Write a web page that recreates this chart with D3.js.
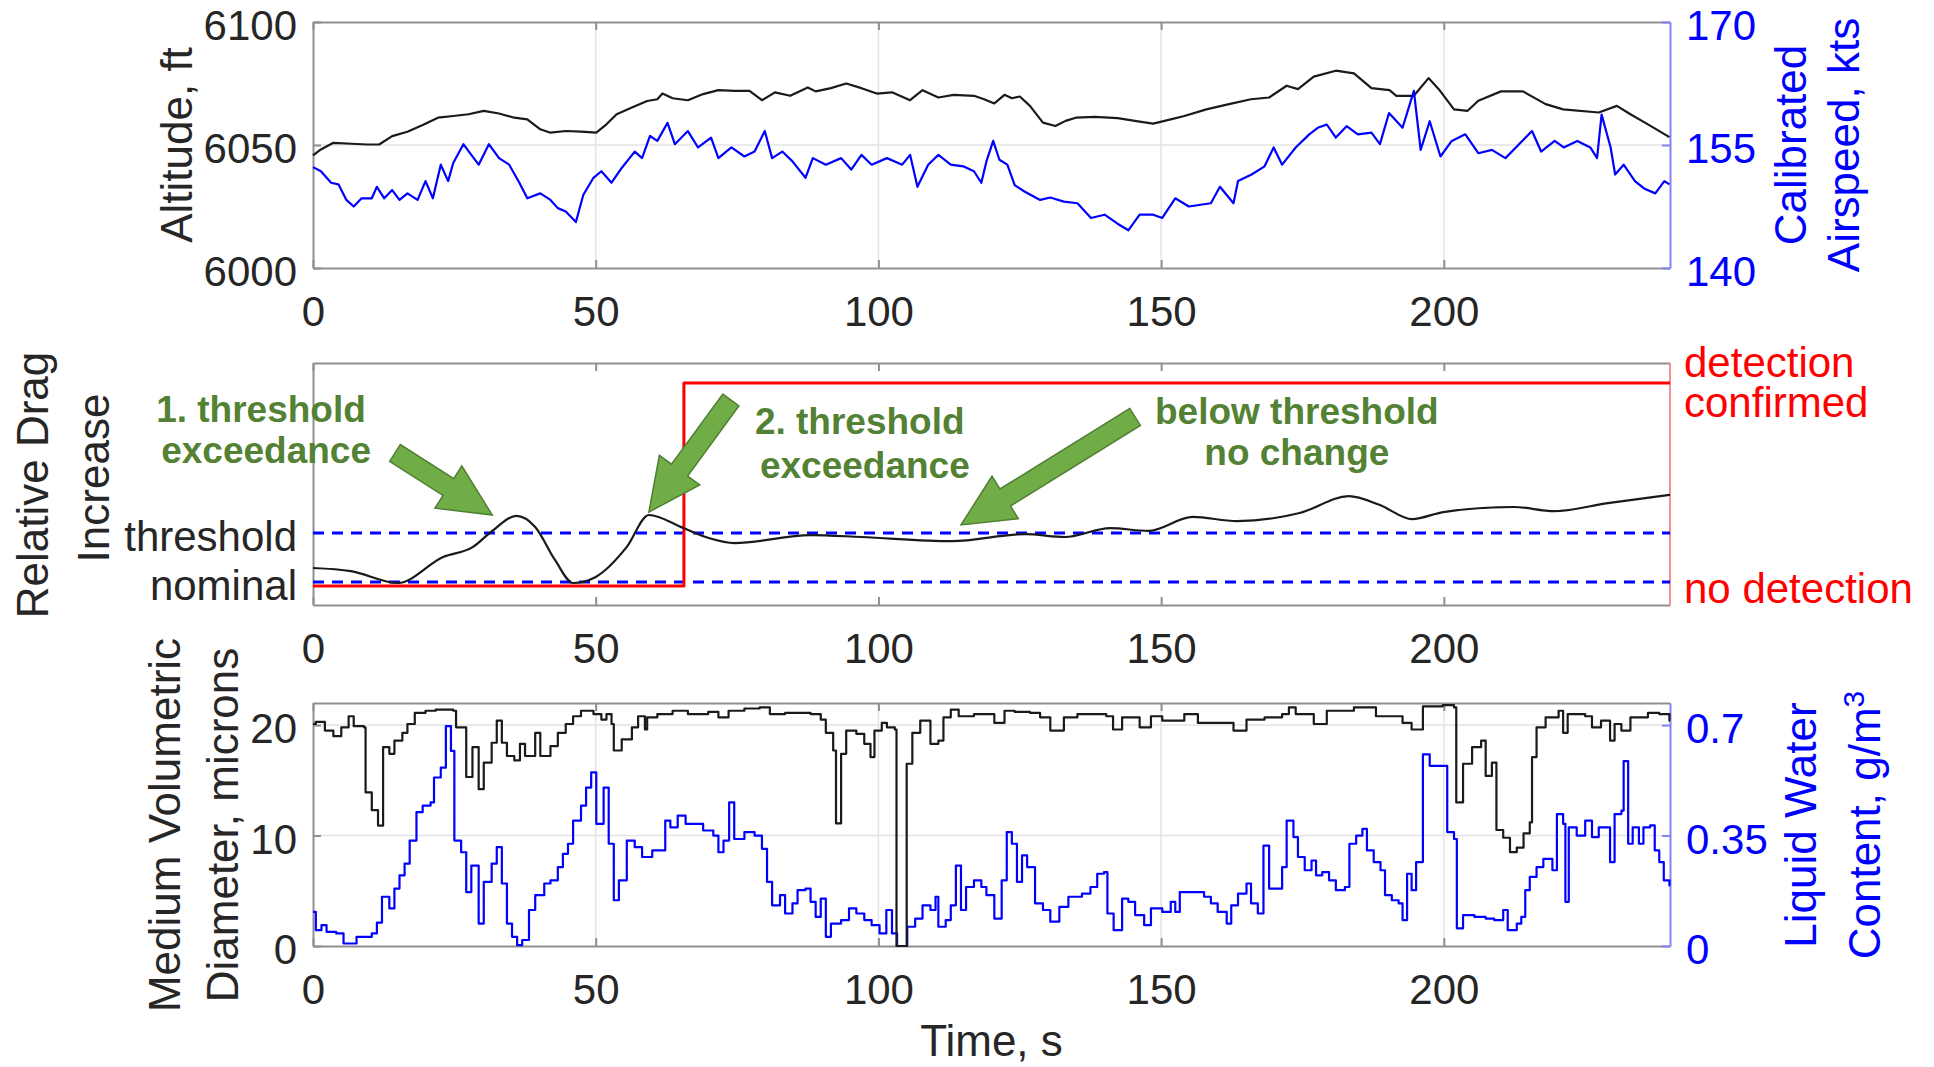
<!DOCTYPE html>
<html>
<head>
<meta charset="utf-8">
<script src="https://cdn.jsdelivr.net/npm/d3@7"></script>
<style>
  body { margin: 0; background: #fff; }
  svg { display: block; font-family: "Liberation Sans", Arial, Helvetica, sans-serif; }
</style>
</head>
<body>
<svg id="chart" width="1934" height="1067"></svg>
<script>
// ---- Data ----
const timeTicks = [0, 50, 100, 150, 200];
const altTicks = [6000, 6050, 6100];
const speedTicks = [140, 155, 170];
const mvdTicks = [0, 10, 20];
const lwcTicks = [0, 0.35, 0.7];

// Altitude, ft  [time s, value]
const altitude = [[0,6045.8],[1.4,6048.2],[3.6,6050.9],[6.8,6050.5],[9.5,6050.2],[11.7,6050.2],[14,6053.6],[16.7,6055.4],[19.4,6058.1],[22.1,6061.1],[24.8,6061.8],[27.5,6062.5],[30.2,6063.9],[32.9,6062.8],[35.6,6061.1],[37.9,6060.4],[40.2,6056.4],[42,6055],[44.7,6055.7],[47.4,6055.4],[50.1,6055],[51.9,6058.4],[53.7,6062.5],[56.4,6065.2],[59.1,6067.9],[60.9,6068.6],[61.8,6070.9],[63.6,6069],[66.3,6068.2],[69,6070.7],[71.7,6072.3],[74.5,6072],[77.2,6072],[79.4,6068.2],[81.7,6071.4],[84.4,6070],[87.5,6073.4],[88.9,6071.8],[91.6,6073.1],[94.3,6075],[97,6073.1],[99.7,6070.9],[102.4,6071.4],[105.6,6068.2],[107.8,6072.3],[110.6,6069.3],[113.3,6070.4],[116.9,6070],[118.7,6068.6],[120.5,6066.9],[122.3,6070.4],[123.6,6069],[125,6069.7],[126.8,6065.9],[129.1,6059.1],[131.3,6057.7],[133.1,6059.8],[134.9,6061.1],[138.3,6061.4],[142.3,6060.9],[146.2,6059.5],[148.6,6058.7],[151.7,6060.4],[154.1,6061.8],[158,6064.5],[162,6066.6],[165.9,6068.6],[169.1,6069.3],[172.2,6074.1],[174.2,6072.7],[177,6077.8],[180.9,6080.2],[184.1,6079.1],[187.2,6073.1],[190.4,6072.3],[191.6,6070],[194.7,6070],[197.3,6077.2],[199.1,6072.7],[201.8,6064.5],[204.2,6063.9],[206.1,6068],[210.1,6071.8],[214,6071.8],[218,6066.6],[221.1,6064.5],[227.4,6063.2],[230.6,6065.9],[233,6062.5],[236.1,6058.4],[239.9,6053.2]];

// Calibrated airspeed, kts
const airspeed = [[0,152.3],[1.4,151.8],[3.2,150.4],[4.5,150.2],[5.9,148.3],[7.2,147.5],[8.6,148.5],[10.4,148.5],[11.3,149.9],[12.6,148.5],[14,149.5],[15.3,148.3],[16.7,149.1],[18.5,148.3],[19.9,150.6],[21.2,148.5],[22.6,152.6],[23.9,150.6],[24.8,152.8],[26.6,155.1],[28,153.8],[29.3,152.6],[31.1,155.1],[32.9,153.4],[34.7,152.6],[36.5,150.4],[37.9,148.5],[40.2,149.1],[42,148.3],[43.3,147.3],[44.7,146.9],[46.5,145.6],[47.8,148.9],[49.6,151],[51,151.8],[52.8,150.4],[54.6,152.2],[56.9,154.2],[58.2,153.4],[59.6,156.1],[60.9,155.5],[62.7,157.7],[64,155.1],[66.3,156.7],[68.1,154.7],[70.4,155.9],[71.7,153.4],[74,154.7],[76.3,153.6],[78.1,154.2],[79.9,156.7],[81.2,153.4],[83,154.2],[84.8,153],[87.1,151],[88.4,153.4],[90.7,152.6],[93.4,153.4],[95.2,152],[97,153.8],[98.8,152.6],[101.5,153.4],[104.2,152.6],[105.6,153.8],[106.9,149.9],[108.8,152.6],[110.6,153.8],[112.8,152.6],[115,152.4],[116.9,151.8],[118.2,150.4],[119.1,153],[120.3,155.5],[121.4,153.2],[122.8,152.6],[124.1,150.1],[125.9,149.3],[128.6,148.3],[130.4,148.6],[132.8,148.1],[135.2,147.9],[137.6,146.1],[140,146.5],[142.3,145.4],[144.2,144.6],[146.2,146.5],[148.6,146.5],[150.2,146.1],[152.5,148.5],[154.9,147.5],[158.8,147.9],[160.4,149.9],[162.8,147.9],[163.6,150.6],[166,151.4],[168.3,152.4],[169.9,154.7],[171.4,152.6],[173.8,154.7],[176.2,156.3],[177.7,157.1],[179.3,157.5],[180.9,155.9],[182.8,157.3],[184.8,156.3],[187.2,156.5],[188.7,155.1],[190.3,158.9],[192.7,157.1],[194.7,161.6],[195.9,154.4],[197.5,157.9],[199.4,153.6],[201.4,155.5],[203.8,156.3],[206.1,154],[208.5,154.4],[210.9,153.4],[213.3,155.1],[215.6,156.7],[217.2,154.2],[219.6,155.5],[221.2,154.7],[223.6,155.5],[225.9,154.7],[227.1,153.4],[227.9,158.7],[229.5,154.7],[230.3,151.4],[231.8,152.6],[233.8,150.6],[235.4,149.7],[237.4,149.1],[239,150.6],[239.9,150.2]];

// Relative drag increase (normalised units, 0 = axis bottom, 1 = axis top)
const dragSignal = [[0,0.153],[6.7,0.140],[15,0.091],[23,0.198],[28.3,0.240],[31.5,0.302],[36,0.368],[39.3,0.322],[42.8,0.186],[46,0.091],[50,0.116],[55.5,0.240],[59.4,0.372],[65.5,0.318],[70,0.277],[74.5,0.256],[88,0.289],[97,0.281],[113,0.264],[126,0.293],[133,0.281],[141,0.318],[147.7,0.306],[155.6,0.364],[163.4,0.347],[174.5,0.380],[183.2,0.450],[188.7,0.413],[194.4,0.355],[199.9,0.384],[212.4,0.405],[219.5,0.388],[229,0.421],[240,0.455]];
const detection = [[0,0.079],[65.6,0.917],[240,0.917]];
const nominalLevel = 0.095;
const thresholdLevel = 0.298;
const detectLow = 0.079;
const detectHigh = 0.917;

// Medium volumetric diameter, microns
const mvd = [[0,20.1],[0.5,20.3],[2.1,19.5],[3.6,19.0],[5,19.8],[6.3,20.8],[7.2,19.9],[9,19.8],[9.3,13.9],[10.4,12.3],[11.5,10.9],[12.4,18.0],[13.5,17.4],[14.4,18.6],[15.8,19.3],[16.7,20.1],[18,21.1],[19.9,21.3],[21.7,21.4],[24.8,21.3],[25.3,19.8],[26.6,19.8],[27.1,15.3],[28.2,18.0],[29.3,14.2],[30.2,16.6],[31.6,18.4],[32.5,20.4],[33.4,18.4],[34.3,17.2],[35.6,16.8],[36.6,18.3],[37.5,17.2],[39.3,19.3],[40.2,17.2],[42,18.1],[43.3,19.3],[44.7,20.1],[46,20.8],[47.4,21.3],[49.6,21.0],[51,20.5],[51.9,21.0],[52.8,20.1],[53.2,17.7],[54.6,18.7],[56.4,19.8],[57.5,20.8],[58.7,19.6],[59.1,20.7],[60.9,21.0],[63.6,21.3],[66.3,21.0],[69.9,21.2],[71.7,20.7],[73.5,21.3],[76.3,21.5],[79,21.6],[80.8,21.0],[83.5,21.1],[88,21.0],[89.8,20.5],[90.7,19.3],[92,17.7],[92.5,11.1],[93.4,17.4],[94.3,19.5],[96.1,19.2],[97.5,18.3],[98.6,17.1],[99.3,19.5],[100.6,20.2],[101.5,19.8],[102.9,19.6],[103.2,0],[105,16.5],[106,19.3],[107.4,20.4],[109.2,18.3],[110.6,18.6],[111.5,20.7],[112.8,21.4],[114.2,20.8],[116.9,21.0],[120.5,20.2],[122.3,21.3],[124.1,21.2],[126.8,21.1],[128.6,20.7],[130.4,19.5],[132.8,20.7],[135.2,21.0],[140.3,20.8],[141.5,19.6],[143.1,20.7],[146.2,19.8],[148.2,20.8],[150.2,20.4],[154.1,21.0],[156.5,20.2],[162.8,19.5],[165.1,20.5],[168.3,20.7],[171.4,21.0],[172.6,21.6],[173.8,21.0],[177,20.1],[179.3,21.3],[184.1,21.6],[188,20.8],[192.7,20.2],[194.3,19.6],[196.3,21.7],[199.8,21.8],[201.8,21.6],[202.2,13.0],[203.4,16.5],[205,18.0],[206.6,18.6],[207.4,15.4],[208.5,16.6],[209.3,10.5],[210.5,9.8],[211.7,8.5],[212.9,8.9],[214.1,10.2],[215.2,11.2],[215.6,17.1],[216.4,19.8],[218,20.7],[220.3,21.3],[221.1,19.3],[221.9,21.0],[225,20.8],[226.2,19.8],[227.8,20.4],[229.4,18.6],[230.2,20.1],[231.4,19.5],[233,20.7],[236.1,21.1],[238.1,21.0],[239.9,20.4],[240,20.4]];

// Liquid water content, g/m^3
const lwc = [[0,0.108],[0.5,0.050],[1.5,0.066],[2.4,0.045],[4.1,0.040],[5.4,0.008],[7.7,0.029],[10.4,0.040],[11.3,0.074],[12.2,0.156],[13.5,0.119],[14.4,0.182],[15.3,0.224],[16.2,0.261],[17.1,0.334],[18.3,0.424],[19.4,0.445],[20.8,0.455],[21.4,0.534],[22.6,0.565],[23.5,0.697],[24.4,0.618],[25,0.334],[26.2,0.297],[27.1,0.171],[28,0.255],[29.3,0.071],[30.2,0.203],[31.6,0.261],[32.5,0.313],[33.4,0.198],[34.3,0.071],[35.2,0.029],[36.1,0.003],[37,0.019],[38.2,0.114],[39.3,0.161],[40.9,0.198],[42,0.208],[43.3,0.250],[44.2,0.292],[45.1,0.324],[46,0.397],[47.4,0.445],[48.3,0.502],[49.2,0.550],[50.1,0.387],[51.4,0.502],[52.3,0.324],[53.2,0.145],[54.1,0.208],[55.5,0.334],[56.9,0.313],[58.2,0.282],[60,0.303],[62.3,0.397],[63.2,0.376],[64.5,0.413],[65.9,0.387],[69,0.366],[70.8,0.350],[71.7,0.297],[72.6,0.334],[73.6,0.455],[74.5,0.339],[76.3,0.361],[78.1,0.350],[79.4,0.308],[80.3,0.203],[81.2,0.129],[82.6,0.161],[83.5,0.103],[84.8,0.135],[85.7,0.177],[87.1,0.182],[88,0.140],[88.9,0.092],[89.8,0.150],[90.7,0.029],[91.6,0.071],[93.4,0.082],[94.8,0.119],[96.1,0.103],[97.5,0.082],[98.8,0.066],[100.2,0.040],[101.4,0.114],[102.4,0.040],[103.3,0],[105.1,0.061],[106.5,0.087],[107.8,0.129],[109.2,0.114],[110.1,0.156],[110.6,0.061],[111.9,0.082],[112.8,0.129],[113.7,0.255],[114.6,0.114],[115.5,0.187],[116.9,0.208],[118.2,0.187],[119.1,0.161],[120.5,0.087],[121.8,0.208],[122.7,0.361],[123.6,0.324],[124.5,0.203],[125.4,0.287],[126.3,0.250],[127.7,0.135],[129.1,0.114],[130.4,0.077],[132,0.124],[133.6,0.156],[136,0.166],[137.5,0.187],[138.7,0.229],[139.9,0.234],[140.5,0.103],[141.6,0.050],[143.1,0.150],[144.2,0.140],[145.4,0.098],[147,0.066],[148.2,0.119],[150.2,0.108],[151.7,0.140],[152.5,0.108],[153.3,0.171],[155.7,0.171],[157.6,0.156],[158.8,0.135],[160,0.108],[161.6,0.071],[162.4,0.129],[163.6,0.166],[165.1,0.198],[165.9,0.135],[167.1,0.103],[168.1,0.318],[169.1,0.182],[171.4,0.250],[172.2,0.397],[173.4,0.345],[174.2,0.282],[175.4,0.240],[176.6,0.271],[177.4,0.224],[178.5,0.234],[179.7,0.208],[180.9,0.177],[182.5,0.187],[183.3,0.324],[184.5,0.350],[185.6,0.371],[186.4,0.303],[187.6,0.266],[188.8,0.240],[189.6,0.161],[190.8,0.145],[192,0.135],[192.7,0.082],[193.5,0.229],[194.3,0.177],[195.1,0.266],[196.3,0.607],[197.5,0.571],[200.6,0.361],[201.8,0.339],[202.3,0.056],[203.4,0.098],[205.4,0.092],[207.4,0.087],[208.9,0.082],[210.5,0.114],[211.3,0.050],[212.9,0.071],[213.7,0.092],[214.4,0.177],[215.2,0.219],[216.4,0.250],[217.6,0.276],[219.2,0.240],[220,0.418],[221.1,0.387],[221.5,0.140],[222.1,0.376],[223.5,0.350],[225,0.397],[226.2,0.345],[227.4,0.376],[229.4,0.266],[230.2,0.418],[231.4,0.429],[231.8,0.586],[232.6,0.324],[233.4,0.376],[234.5,0.324],[235.3,0.376],[236.5,0.382],[237.3,0.303],[238.1,0.266],[238.9,0.208],[239.9,0.192],[240,0.192]];

// Annotations in the drag panel: text lines and arrows (tail -> tip), in data units
const noteTexts = [
  { t: -9.2, v: 0.756, text: '1. threshold' },
  { t: -8.3, v: 0.587, text: 'exceedance' },
  { t: 96.7, v: 0.707, text: '2. threshold' },
  { t: 97.6, v: 0.525, text: 'exceedance' },
  { t: 174.0, v: 0.748, text: 'below threshold' },
  { t: 174.0, v: 0.579, text: 'no change' }
];
const noteArrows = [
  { from: [14.5, 0.628], to: [31.7, 0.372] },
  { from: [73.9, 0.847], to: [59.4, 0.384] },
  { from: [145.4, 0.777], to: [114.6, 0.331] }
];

// ---- Layout ----
const left = 313, right = 1670;
const frameColor = '#8f8f8f';
const gridColor = '#e3e3e3';
const textColor = '#262626';
const tickFont = 42;
const titleFont = 44;

const svg = d3.select('#chart');
const x = d3.scaleLinear().domain([0, 240]).range([left, right]);

const yAlt = d3.scaleLinear().domain([6000, 6100]).range([268, 22]);
const ySpeed = d3.scaleLinear().domain([140, 170]).range([268, 22]);
const yDrag = d3.scaleLinear().domain([0, 1]).range([605, 363]);
const yMvd = d3.scaleLinear().domain([0, 22]).range([946, 703]);
const yLwc = d3.scaleLinear().domain([0, 0.77]).range([946, 703]);

/** Style an axis group: lines in the given colour, labels in the given font */
function styleAxis(g, lineColor, labelColor) {
  g.attr('font-family', null).attr('font-size', null);
  g.select('.domain').attr('stroke', lineColor).attr('stroke-width', 2);
  g.selectAll('.tick line').attr('stroke', lineColor).attr('stroke-width', 2);
  g.selectAll('.tick text')
    .attr('fill', labelColor)
    .style('font-size', tickFont + 'px');
}

/** Grid lines, box and time axis for one panel */
function drawFrame(yScale, gridValues, vGrid) {
  const [bottom, top] = yScale.range();
  const g = svg.append('g');

  if (vGrid) {
    g.selectAll('line.vgrid')
      .data(timeTicks.filter(d => d > 0))
      .enter().append('line')
      .attr('x1', d => x(d)).attr('x2', d => x(d))
      .attr('y1', top).attr('y2', bottom)
      .attr('stroke', gridColor).attr('stroke-width', 1.5);
  }
  g.selectAll('line.hgrid')
    .data(gridValues)
    .enter().append('line')
    .attr('x1', left).attr('x2', right)
    .attr('y1', d => yScale(d)).attr('y2', d => yScale(d))
    .attr('stroke', gridColor).attr('stroke-width', 1.5);

  // Bottom time axis with labels, top axis ticks only
  svg.append('g')
    .attr('transform', `translate(0,${bottom})`)
    .call(d3.axisBottom(x).tickValues(timeTicks)
      .tickSizeInner(-8).tickSizeOuter(0).tickPadding(28))
    .call(g => styleAxis(g, frameColor, textColor));

  svg.append('g')
    .attr('transform', `translate(0,${top})`)
    .call(d3.axisTop(x).tickValues(timeTicks)
      .tickSizeInner(-8).tickSizeOuter(0).tickFormat(''))
    .call(g => styleAxis(g, frameColor, textColor));
}

function drawLeftAxis(yScale, ticks, format) {
  svg.append('g')
    .attr('transform', `translate(${left},0)`)
    .call(d3.axisLeft(yScale).tickValues(ticks)
      .tickSizeInner(-8).tickSizeOuter(0).tickPadding(16).tickFormat(format || d3.format('d')))
    .call(g => styleAxis(g, frameColor, textColor))
    .call(g => g.selectAll('.tick text').attr('dy', '0.42em'));
}

function drawRightAxis(yScale, ticks, color, format) {
  svg.append('g')
    .attr('transform', `translate(${right},0)`)
    .call(d3.axisRight(yScale).tickValues(ticks)
      .tickSizeInner(-8).tickSizeOuter(0).tickPadding(16).tickFormat(format))
    .call(g => styleAxis(g, color.line, color.text))
    .call(g => g.selectAll('.tick text').attr('dy', '0.42em'));
}

/** Rotated (bottom-to-top) axis title; x is the text baseline */
function axisTitle(xPos, yPos, text, color) {
  return svg.append('text')
    .attr('transform', `translate(${xPos},${yPos}) rotate(-90)`)
    .attr('text-anchor', 'middle')
    .attr('fill', color)
    .style('font-size', titleFont + 'px')
    .text(text);
}

function drawLine(data, yScale, color, width, curve) {
  svg.append('path')
    .datum(data)
    .attr('fill', 'none')
    .attr('stroke', color)
    .attr('stroke-width', width)
    .attr('stroke-linejoin', 'round')
    .attr('d', d3.line()
      .x(d => x(d[0]))
      .y(d => yScale(d[1]))
      .curve(curve || d3.curveLinear));
}

// ---- Panel 1: altitude and airspeed ----
drawFrame(yAlt, [6050], true);
drawLeftAxis(yAlt, altTicks);
drawRightAxis(ySpeed, speedTicks, { line: '#8383f5', text: '#0000ff' }, d3.format('d'));
drawLine(altitude, yAlt, '#1a1a1a', 2.2);
drawLine(airspeed, ySpeed, '#0000ff', 2.2);
axisTitle(192, 145, 'Altitude, ft', textColor);
axisTitle(1806, 145, 'Calibrated', '#0000ff');
axisTitle(1859, 145, 'Airspeed, kts', '#0000ff');

// ---- Panel 2: relative drag increase ----
drawFrame(yDrag, [], false);
svg.append('g')
  .attr('transform', `translate(${left},0)`)
  .call(d3.axisLeft(yDrag).tickValues([nominalLevel, thresholdLevel])
    .tickSizeInner(0).tickSizeOuter(0).tickPadding(16)
    .tickFormat(d => d === thresholdLevel ? 'threshold' : 'nominal'))
  .call(g => styleAxis(g, frameColor, textColor))
  .call(g => g.selectAll('.tick text').attr('dy', '0.42em'));

// Red right axis with detection state labels
svg.append('line')
  .attr('x1', right).attr('x2', right)
  .attr('y1', yDrag(1)).attr('y2', yDrag(0))
  .attr('stroke', '#f29191').attr('stroke-width', 2);
const detLabels = svg.append('g').attr('fill', '#ff0000').style('font-size', tickFont + 'px');
detLabels.append('text')
  .attr('x', right + 14).attr('y', yDrag(detectHigh) - 6)
  .text('detection');
detLabels.append('text')
  .attr('x', right + 14).attr('y', yDrag(detectHigh) + 34)
  .text('confirmed');
detLabels.append('text')
  .attr('x', right + 14).attr('y', yDrag(detectLow))
  .attr('dy', '0.4em')
  .text('no detection');

// Dashed nominal / threshold levels
svg.selectAll('line.level')
  .data([nominalLevel, thresholdLevel])
  .enter().append('line')
  .attr('x1', left).attr('x2', right)
  .attr('y1', d => yDrag(d)).attr('y2', d => yDrag(d))
  .attr('stroke', '#0000ff').attr('stroke-width', 3)
  .attr('stroke-dasharray', '11 8');

drawLine(detection, yDrag, '#ff0000', 3, d3.curveStepAfter);
drawLine(dragSignal, yDrag, '#1a1a1a', 2.2, d3.curveMonotoneX);

axisTitle(48, 485, 'Relative Drag', textColor);
axisTitle(109, 478, 'Increase', textColor);

// Block arrows pointing at the drag curve
function arrowPath(x1, y1, x2, y2, shaft, headW, headL) {
  const len = Math.hypot(x2 - x1, y2 - y1);
  const ux = (x2 - x1) / len, uy = (y2 - y1) / len;
  const px = -uy, py = ux;
  const bx = x2 - ux * headL, by = y2 - uy * headL;
  const pts = [
    [x1 + px * shaft / 2, y1 + py * shaft / 2],
    [bx + px * shaft / 2, by + py * shaft / 2],
    [bx + px * headW / 2, by + py * headW / 2],
    [x2, y2],
    [bx - px * headW / 2, by - py * headW / 2],
    [bx - px * shaft / 2, by - py * shaft / 2],
    [x1 - px * shaft / 2, y1 - py * shaft / 2]
  ];
  return d3.line()(pts) + 'Z';
}

svg.selectAll('path.arrow')
  .data(noteArrows)
  .enter().append('path')
  .attr('d', d => arrowPath(x(d.from[0]), yDrag(d.from[1]), x(d.to[0]), yDrag(d.to[1]), 20, 50, 52))
  .attr('fill', '#70ad47')
  .attr('stroke', '#507e32')
  .attr('stroke-width', 1.5)
  .attr('stroke-linejoin', 'miter');

svg.selectAll('text.note')
  .data(noteTexts)
  .enter().append('text')
  .attr('x', d => x(d.t))
  .attr('y', d => yDrag(d.v))
  .attr('text-anchor', 'middle')
  .attr('fill', '#548235')
  .style('font-size', '37px')
  .style('font-weight', 'bold')
  .text(d => d.text);

// ---- Panel 3: MVD and LWC ----
drawFrame(yMvd, [10, 20], true);
drawLeftAxis(yMvd, mvdTicks);
drawRightAxis(yLwc, lwcTicks, { line: '#8383f5', text: '#0000ff' }, d => d === 0 ? '0' : String(d));
drawLine(lwc, yLwc, '#0000ff', 2.2, d3.curveStepAfter);
drawLine(mvd, yMvd, '#1a1a1a', 2.2, d3.curveStepAfter);

axisTitle(180, 825, 'Medium Volumetric', textColor);
axisTitle(238, 825, 'Diameter, microns', textColor);
axisTitle(1816, 825, 'Liquid Water', '#0000ff');
const lwcTitle = axisTitle(1880, 825, 'Content, g/m', '#0000ff');
lwcTitle.append('tspan')
  .attr('dy', '-0.55em')
  .style('font-size', '30px')
  .text('3');

// Shared time label
svg.append('text')
  .attr('x', (left + right) / 2)
  .attr('y', 1056)
  .attr('text-anchor', 'middle')
  .attr('fill', textColor)
  .style('font-size', titleFont + 'px')
  .text('Time, s');
</script>
</body>
</html>
